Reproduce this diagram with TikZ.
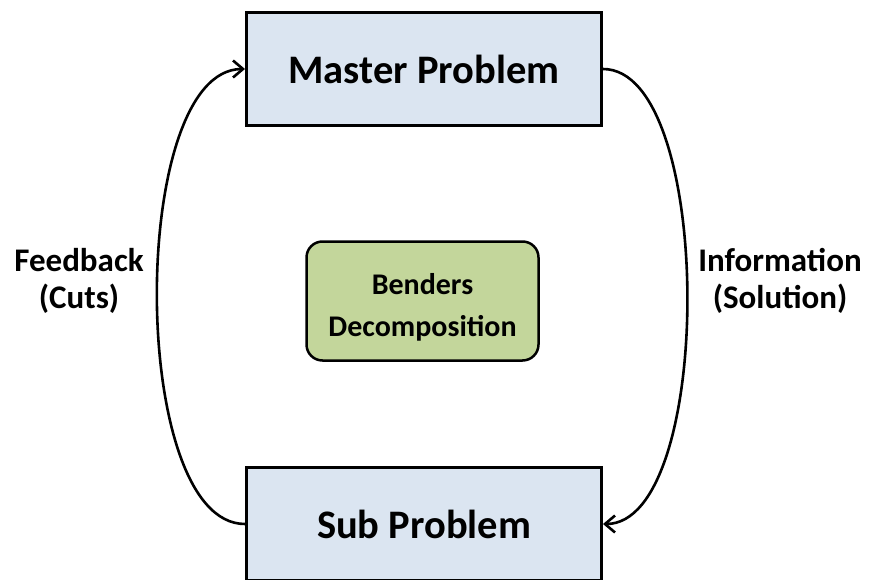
\documentclass[tikz,border=0pt]{standalone}
\usepackage{fontspec}
\setmainfont{Carlito}
\usetikzlibrary{arrows.meta}
\definecolor{boxblue}{HTML}{DBE5F1}
\definecolor{boxgreen}{HTML}{C3D69B}
\tikzset{
  probbox/.style={draw=black, line width=3pt, fill=boxblue, minimum width=355pt, minimum height=113pt,
    inner sep=0pt, font=\fontsize{40.5}{48}\selectfont\bfseries},
  centerbox/.style={draw=black, line width=2.5pt, fill=boxgreen, rounded corners=16pt, minimum width=232pt,
    minimum height=119pt, inner sep=0pt},
  centertext/.style={align=center, inner sep=0pt, font=\fontsize{30}{42}\selectfont\bfseries},
  sidelabel/.style={align=center, inner sep=0pt, font=\fontsize{33}{37}\selectfont\bfseries},
  flow/.style={line width=2.6pt, -{Straight Barb[length=10pt,width=17pt,line width=2.6pt]}}
}
\begin{document}
\begin{tikzpicture}[x=1pt,y=-1pt]
\useasboundingbox (0,0) rectangle (869,580);
\node[probbox] (master) at (424,69) {Master Problem};
\node[probbox] (sub) at (424,524) {Sub Problem};
\node[centerbox] (bd) at (422.5,301) {};
\node[centertext] (bdtext) at ([yshift=-6pt]bd.center) {Benders\\Decomposition};
\node[sidelabel] (fb) at (79,281) {Feedback\\(Cuts)};
\node[sidelabel] (info) at (780,281) {Information\\(Solution)};
\draw[flow] (sub.west) .. controls +(-117,0) and +(-117,0) .. (master.west);
\draw[flow] (master.east) .. controls +(112,0) and +(112,0) .. (sub.east);
\end{tikzpicture}
\end{document}
